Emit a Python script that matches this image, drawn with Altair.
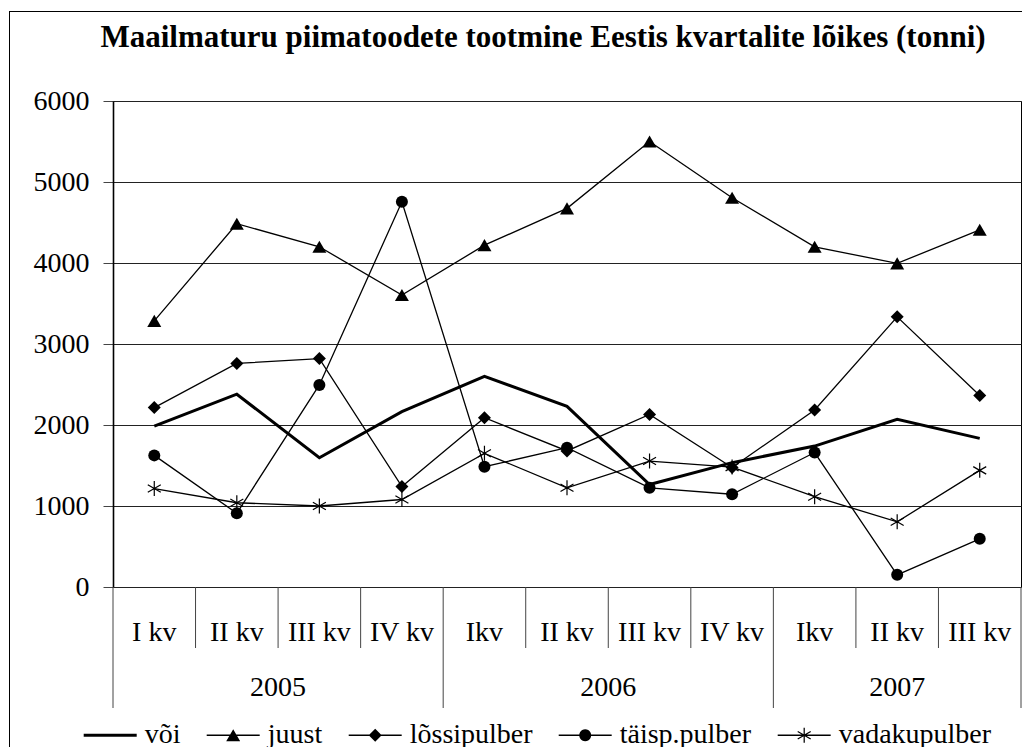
import math
import altair as alt
import pandas as pd

title_text = "Maailmaturu piimatoodete tootmine Eestis kvartalite lõikes (tonni)"
quarters = ["I kv", "II kv", "III kv", "IV kv", "Ikv", "II kv", "III kv", "IV kv", "Ikv", "II kv", "III kv"]
years = ["2005", "2006", "2007"]
quarters_per_year = [4, 4, 3]
series_names = ["või", "juust", "lõssipulber", "täisp.pulber", "vadakupulber"]

voi = [1985, 2380, 1595, 2165, 2600, 2230, 1265, 1535, 1740, 2070, 1835]
juust = [3285, 4485, 4200, 3605, 4220, 4675, 5500, 4805, 4200, 3995, 4410]
lossipulber = [2215, 2760, 2820, 1240, 2090, 1680, 2130, 1475, 2185, 3335, 2365]
taisp_pulber = [1625, 910, 2495, 4755, 1485, 1720, 1225, 1145, 1660, 150, 595]
vadakupulber = [1215, 1040, 1000, 1080, 1650, 1225, 1555, 1480, 1115, 805, 1440]
y_ticks = [0, 1000, 2000, 3000, 4000, 5000, 6000]

values = [voi, juust, lossipulber, taisp_pulber, vadakupulber]
rows = []
for name, vals in zip(series_names, values):
    for i, v in enumerate(vals):
        rows.append({"series": name, "pos": i + 0.5, "value": v})
df = pd.DataFrame(rows)

qdf = pd.DataFrame({"pos": [i + 0.5 for i in range(len(quarters))], "label": quarters})
ydf_rows = []
start = 0
bounds = [0]
for y, n in zip(years, quarters_per_year):
    ydf_rows.append({"pos": float(start + n / 2), "label": y})
    start += n
    bounds.append(start)
ydf = pd.DataFrame(ydf_rows)
sep_long = pd.DataFrame({"pos": [float(b) for b in bounds]})
sep_short = pd.DataFrame({"pos": [float(i) for i in range(1, len(quarters)) if i not in bounds]})

W, H = 908, 486
FONT = "Liberation Serif"

xenc = alt.X("pos:Q", scale=alt.Scale(domain=[0, len(quarters)], nice=False, zero=False), axis=None)
yenc = alt.Y("value:Q", scale=alt.Scale(domain=[0, 6000], nice=False),
             axis=alt.Axis(values=y_ticks, format="d", title=None, grid=True, gridColor="#222", gridWidth=1,
                           domainColor="black", domainWidth=1.6, tickColor="#444", tickSize=10,
                           labelFont=FONT, labelFontSize=28, labelColor="black", labelPadding=14))

line_thick = alt.Chart(df).transform_filter(alt.datum.series == "või").mark_line(
    color="black", strokeWidth=3).encode(x=xenc, y=yenc)
line_thin = alt.Chart(df).transform_filter(alt.datum.series != "või").mark_line(
    color="black", strokeWidth=1.3).encode(x="pos:Q", y="value:Q", detail="series:N")

markers = [("juust", "triangle-up", 196), ("lõssipulber", "diamond", 169), ("täisp.pulber", "circle", 144)]
point_layers = []
for name, shp, sz in markers:
    point_layers.append(
        alt.Chart(df).transform_filter(alt.datum.series == name).mark_point(
            filled=True, color="black", shape=shp, size=sz, opacity=1
        ).encode(x="pos:Q", y="value:Q")
    )
ast_path = "M0,-1L0,1M-0.866,-0.5L0.866,0.5M-0.866,0.5L0.866,-0.5"
point_layers.append(
    alt.Chart(df).transform_filter(alt.datum.series == "vadakupulber").mark_point(
        filled=False, color="black", shape=ast_path, size=225, strokeWidth=1.2, opacity=1
    ).encode(x="pos:Q", y="value:Q")
)


# ---- legend symbols: filled polygons (line segment + marker) in the unit square
def poly(pts):
    a = sum(pts[i][0] * pts[(i + 1) % len(pts)][1] - pts[(i + 1) % len(pts)][0] * pts[i][1]
            for i in range(len(pts)))
    if a < 0:
        pts = pts[::-1]
    return "M" + "L".join(f"{x:.4f},{y:.4f}" for x, y in pts) + "Z"


def seg(t):
    return poly([(-1, -t), (1, -t), (1, t), (-1, t)])


def arms(length, w):
    out = ""
    for ang in (90, 30, -30):
        dx, dy = math.cos(math.radians(ang)), math.sin(math.radians(ang))
        nx, ny = -dy, dx
        out += poly([(dx * length + nx * w, dy * length + ny * w), (dx * length - nx * w, dy * length - ny * w),
                     (-dx * length - nx * w, -dy * length - ny * w), (-dx * length + nx * w, -dy * length + ny * w)])
    return out


thin = seg(0.025)
leg_paths = [
    seg(0.057),
    thin + poly([(0, -0.229), (0.264, 0.229), (-0.264, 0.229)]),
    thin + poly([(0, -0.245), (0.245, 0), (0, 0.245), (-0.245, 0)]),
    thin + poly([(0.226 * math.cos(2 * math.pi * k / 24), 0.226 * math.sin(2 * math.pi * k / 24)) for k in range(24)]),
    thin + arms(0.283, 0.0235),
]
legend_layer = alt.Chart(df).transform_filter(alt.datum.value < 0).mark_point(
    filled=True, color="black", opacity=1
).encode(
    x="pos:Q", y="value:Q",
    shape=alt.Shape("series:N", scale=alt.Scale(domain=series_names, range=leg_paths),
                    legend=alt.Legend(orient="none", legendX=-29.3, legendY=607.5, direction="horizontal",
                                      title=None, symbolSize=2809, labelFont=FONT, labelFontSize=28,
                                      labelColor="black", labelOffset=8, columnPadding=26, padding=0,
                                      symbolFillColor="black", symbolStrokeWidth=0,
                                      labelLimit=400, symbolOpacity=1)),
)

sep_s = alt.Chart(sep_short).mark_rule(color="#444", strokeWidth=1).encode(
    x="pos:Q", y=alt.value(H), y2=alt.value(H + 61))
sep_l = alt.Chart(sep_long).mark_rule(color="#444", strokeWidth=1).encode(
    x="pos:Q", y=alt.value(H), y2=alt.value(H + 121))

qlabels = alt.Chart(qdf).mark_text(font=FONT, fontSize=28, baseline="alphabetic", color="black").encode(
    x="pos:Q", y=alt.value(H + 54), text="label:N")
ylabels = alt.Chart(ydf).mark_text(font=FONT, fontSize=28, baseline="alphabetic", color="black").encode(
    x="pos:Q", y=alt.value(H + 109), text="label:N")

# outer chart frame (left and top edges; the others lie outside the window)
frame = pd.DataFrame({"edge": ["frame"]})
border_top = alt.Chart(frame).mark_rule(color="black", strokeWidth=1).encode(
    x=alt.value(-104), x2=alt.value(W + 1), y=alt.value(-89.5), detail="edge:N")
border_left = alt.Chart(frame).mark_rule(color="black", strokeWidth=1).encode(
    x=alt.value(-103.5), y=alt.value(-90), y2=alt.value(H + 200), detail="edge:N")

chart = alt.layer(line_thick, line_thin, *point_layers, sep_s, sep_l, qlabels, ylabels,
                  border_top, border_left, legend_layer).properties(
    width=W, height=H,
    title=alt.TitleParams(title_text, font=FONT, fontSize=31, fontWeight="bold", color="black", dx=-24, offset=-43),
    padding={"left": 0, "top": 2, "right": 0, "bottom": 0},
    background="white",
).configure_view(stroke="black", strokeWidth=1)

chart.save("out.html", embed_options={"renderer": "svg", "actions": False})
